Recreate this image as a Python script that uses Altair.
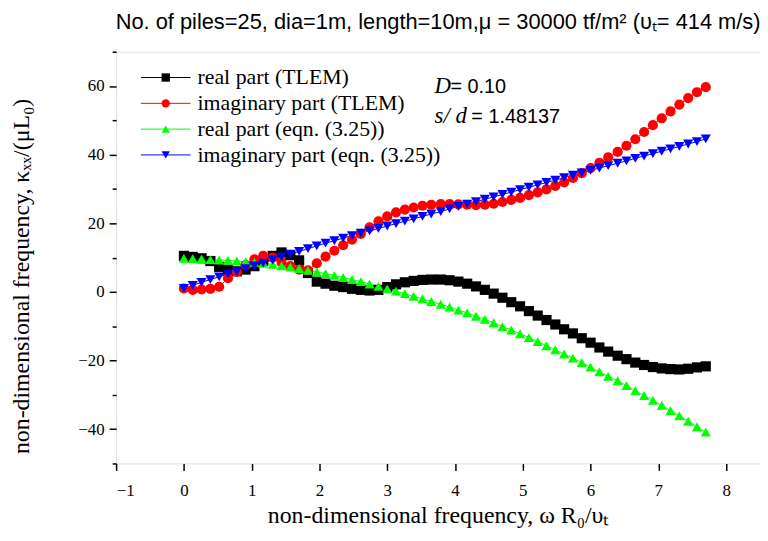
import altair as alt
import pandas as pd

# ---------------- data ----------------
x_vals = [0.00, 0.13, 0.26, 0.39, 0.52, 0.65, 0.78, 0.91, 1.04, 1.17,
          1.31, 1.44, 1.57, 1.70, 1.83, 1.96, 2.09, 2.22, 2.35, 2.48,
          2.61, 2.74, 2.87, 3.00, 3.13, 3.26, 3.39, 3.52, 3.65, 3.79,
          3.92, 4.05, 4.18, 4.31, 4.44, 4.57, 4.70, 4.83, 4.96, 5.09,
          5.22, 5.35, 5.48, 5.61, 5.74, 5.87, 6.00, 6.13, 6.26, 6.40,
          6.53, 6.66, 6.79, 6.92, 7.05, 7.18, 7.31, 7.44, 7.57, 7.70]

real_tlem = [10.5, 10.2, 9.8, 9.0, 7.3, 6.5, 6.0, 6.5, 7.5, 9.0,
             10.5, 11.5, 10.7, 9.2, 5.5, 3.0, 2.4, 1.8, 1.4, 0.9,
             0.6, 0.4, 0.6, 1.4, 2.2, 2.8, 3.2, 3.5, 3.6, 3.6,
             3.4, 3.0, 2.4, 1.6, 0.6, -0.5, -1.7, -3.0, -4.2, -5.6,
             -6.9, -8.2, -9.5, -10.9, -12.1, -13.5, -14.8, -16.2, -17.4, -18.6,
             -19.6, -20.6, -21.3, -21.9, -22.3, -22.5, -22.6, -22.4, -22.0, -21.7]

imag_tlem = [1.0, 0.6, 0.7, 0.9, 1.5, 4.0, 5.8, 7.8, 9.5, 10.5,
             10.0, 8.7, 7.5, 6.5, 6.3, 8.3, 10.3, 12.0, 13.6, 15.2,
             16.9, 18.8, 20.6, 22.0, 23.2, 24.0, 24.6, 25.1, 25.4, 25.6,
             25.6, 25.5, 25.4, 25.3, 25.4, 25.7, 26.2, 26.8, 27.4, 28.2,
             29.0, 29.9, 30.9, 31.9, 33.2, 34.6, 36.1, 37.6, 39.2, 40.8,
             42.6, 44.5, 46.6, 48.6, 50.6, 52.6, 54.6, 56.5, 58.2, 59.7]

real_eqn = [9.8, 9.7, 9.6, 9.4, 9.3, 9.2, 9.0, 8.8, 8.6, 8.3,
            8.0, 7.6, 7.2, 6.8, 6.3, 5.8, 5.3, 4.8, 4.2, 3.6,
            3.0, 2.3, 1.6, 0.9, 0.2, -0.5, -1.3, -2.0, -2.8, -3.6,
            -4.4, -5.3, -6.1, -7.1, -8.0, -9.0, -10.1, -11.1, -12.2, -13.3,
            -14.5, -15.7, -16.9, -18.1, -19.3, -20.6, -21.9, -23.3, -24.6, -25.9,
            -27.3, -28.8, -30.2, -31.6, -33.1, -34.6, -36.1, -37.7, -39.3, -40.9]

imag_eqn = [1.0, 1.9, 2.8, 3.6, 4.4, 5.2, 6.0, 6.8, 7.6, 8.4,
            9.3, 10.2, 11.0, 11.8, 12.6, 13.4, 14.2, 14.9, 15.7, 16.4,
            17.1, 17.8, 18.5, 19.2, 19.9, 20.6, 21.3, 22.0, 22.7, 23.4,
            24.2, 24.9, 25.6, 26.3, 27.0, 27.7, 28.4, 29.1, 29.8, 30.5,
            31.2, 31.9, 32.6, 33.3, 34.0, 34.7, 35.4, 36.1, 36.8, 37.5,
            38.2, 38.9, 39.6, 40.3, 41.0, 41.7, 42.4, 43.1, 43.8, 44.6]

series_names = ["real part (TLEM)", "imaginary part (TLEM)",
                "real part (eqn. (3.25))", "imaginary part (eqn. (3.25))"]
series_values = [real_tlem, imag_tlem, real_eqn, imag_eqn]

x_tick_values = [-1, -0.5, 0, 0.5, 1, 1.5, 2, 2.5, 3, 3.5, 4, 4.5, 5, 5.5,
                 6, 6.5, 7, 7.5, 8, 8.5]
y_tick_values = [-50, -40, -30, -20, -10, 0, 10, 20, 30, 40, 50, 60, 70]

title_text = "No. of piles=25, dia=1m, length=10m,\u03bc = 30000 tf/m\u00b2 (\u03c5\u209c= 414 m/s)"
x_title = "non-dimensional frequency, \u03c9 R\u2080/\u03c5\u209c"
y_title = "non-dimensional frequency, \u03ba\u2093\u2093/(\u03bcL\u2080)"

# ---------------- styles ----------------
colors = ["#000000", "#ff0000", "#00ff00", "#0000ff"]
shapes = ["square", "circle", "triangle-up", "triangle-down"]
serif = "Liberation Serif, serif"
sans = "Liberation Sans, sans-serif"

rows = []
for name, ys in zip(series_names, series_values):
    for i, (xv, yv) in enumerate(zip(x_vals, ys)):
        rows.append({"series": name, "x": xv, "y": yv, "idx": i})
df = pd.DataFrame(rows)

color_scale = alt.Scale(domain=series_names, range=colors)
shape_scale = alt.Scale(domain=series_names, range=shapes)

x_enc = alt.X(
    "x:Q",
    scale=alt.Scale(domain=[-1, 8.5], nice=False, zero=False),
    axis=alt.Axis(
        values=x_tick_values, format="d",
        labelExpr="datum.value % 1 === 0 ? datum.label : ''",
        tickSize={"condition": {"test": "datum.value % 1 !== 0", "value": 4}, "value": 7},
        tickColor="black", tickWidth=1.5, domain=False, grid=False,
        labelFont=serif, labelFontSize=17, labelColor="black", labelPadding=12,
        title=x_title, titleFont=serif, titleFontSize=24, titleFontWeight="normal",
        titleColor="black", titlePadding=6,
    ),
)
y_enc = alt.Y(
    "y:Q",
    scale=alt.Scale(domain=[-50, 70], nice=False, zero=False),
    axis=alt.Axis(
        values=y_tick_values, format="d",
        labelExpr="datum.value % 20 === 0 ? datum.label : ''",
        tickSize={"condition": {"test": "datum.value % 20 !== 0", "value": 4}, "value": 7},
        tickColor="black", tickWidth=1.5, domain=False, grid=False,
        labelFont=serif, labelFontSize=17, labelColor="black", labelPadding=5,
        title=y_title, titleFont=serif, titleFontSize=24, titleFontWeight="normal",
        titleColor="black", titlePadding=45, titleY=226,
    ),
)

base = alt.Chart(df)
lines = base.mark_line(strokeWidth=1).encode(
    x=x_enc, y=y_enc,
    color=alt.Color("series:N", scale=color_scale, legend=None),
    detail="series:N", order="idx:Q",
)
points = base.mark_point(filled=True, opacity=1, size=105).encode(
    x=x_enc, y=y_enc,
    color=alt.Color("series:N", scale=color_scale, legend=None),
    shape=alt.Shape("series:N", scale=shape_scale, legend=None),
)
data_layer = alt.layer(lines, points)

# ---------------- custom legend (line + marker + label) ----------------
leg_df = pd.DataFrame({"series": series_names})
leg_y = alt.Y("series:N", sort=series_names,
              scale=alt.Scale(type="point", range=[26, 104], padding=0), axis=None)
leg_base = alt.Chart(leg_df)
leg_rule = leg_base.mark_rule(strokeWidth=1).encode(
    x=alt.value(25), x2=alt.value(75), y=leg_y,
    color=alt.Color("series:N", scale=color_scale, legend=None),
)
leg_pt = leg_base.mark_point(filled=True, opacity=1, size=70).encode(
    x=alt.value(50), y=leg_y,
    color=alt.Color("series:N", scale=color_scale, legend=None),
    shape=alt.Shape("series:N", scale=shape_scale, legend=None),
)
leg_txt = leg_base.mark_text(align="left", baseline="middle", font=serif,
                             fontSize=22, color="black").encode(
    x=alt.value(82), y=leg_y, text="series:N",
)
legend_layer = alt.layer(leg_rule, leg_pt, leg_txt)

# ---------------- annotations ----------------
ann_df = pd.DataFrame({"a": [0]})
ann = alt.Chart(ann_df)
d_it = ann.mark_text(align="left", baseline="alphabetic", font=serif, fontStyle="italic",
                     fontSize=23, color="black").encode(
    x=alt.value(321), y=alt.value(42), text=alt.value("D"))
d_val = ann.mark_text(align="left", baseline="alphabetic", font=sans,
                      fontSize=20, color="black").encode(
    x=alt.value(337), y=alt.value(42), text=alt.value("= 0.10"))
s_it = ann.mark_text(align="left", baseline="alphabetic", font=serif, fontStyle="italic",
                     fontSize=23, color="black").encode(
    x=alt.value(321), y=alt.value(72), text=alt.value("s/ d"))
s_val = ann.mark_text(align="left", baseline="alphabetic", font=sans,
                      fontSize=20, color="black").encode(
    x=alt.value(358), y=alt.value(72), text=alt.value("= 1.48137"))

chart = alt.layer(
    data_layer, legend_layer, d_it, d_val, s_it, s_val
).resolve_scale(y="independent").properties(
    width=649, height=415,
    padding={"left": 109, "top": 42, "right": 0, "bottom": 64},
    autosize=alt.AutoSizeParams(type="none"),
    title=alt.TitleParams(title_text, font=sans, fontSize=22, fontWeight="normal",
                          color="black", offset=17, anchor="middle"),
).configure_view(
    stroke="black", strokeWidth=1.5,
).configure(background="white")

chart.save("out.html", embed_options={"renderer": "svg", "actions": False})
